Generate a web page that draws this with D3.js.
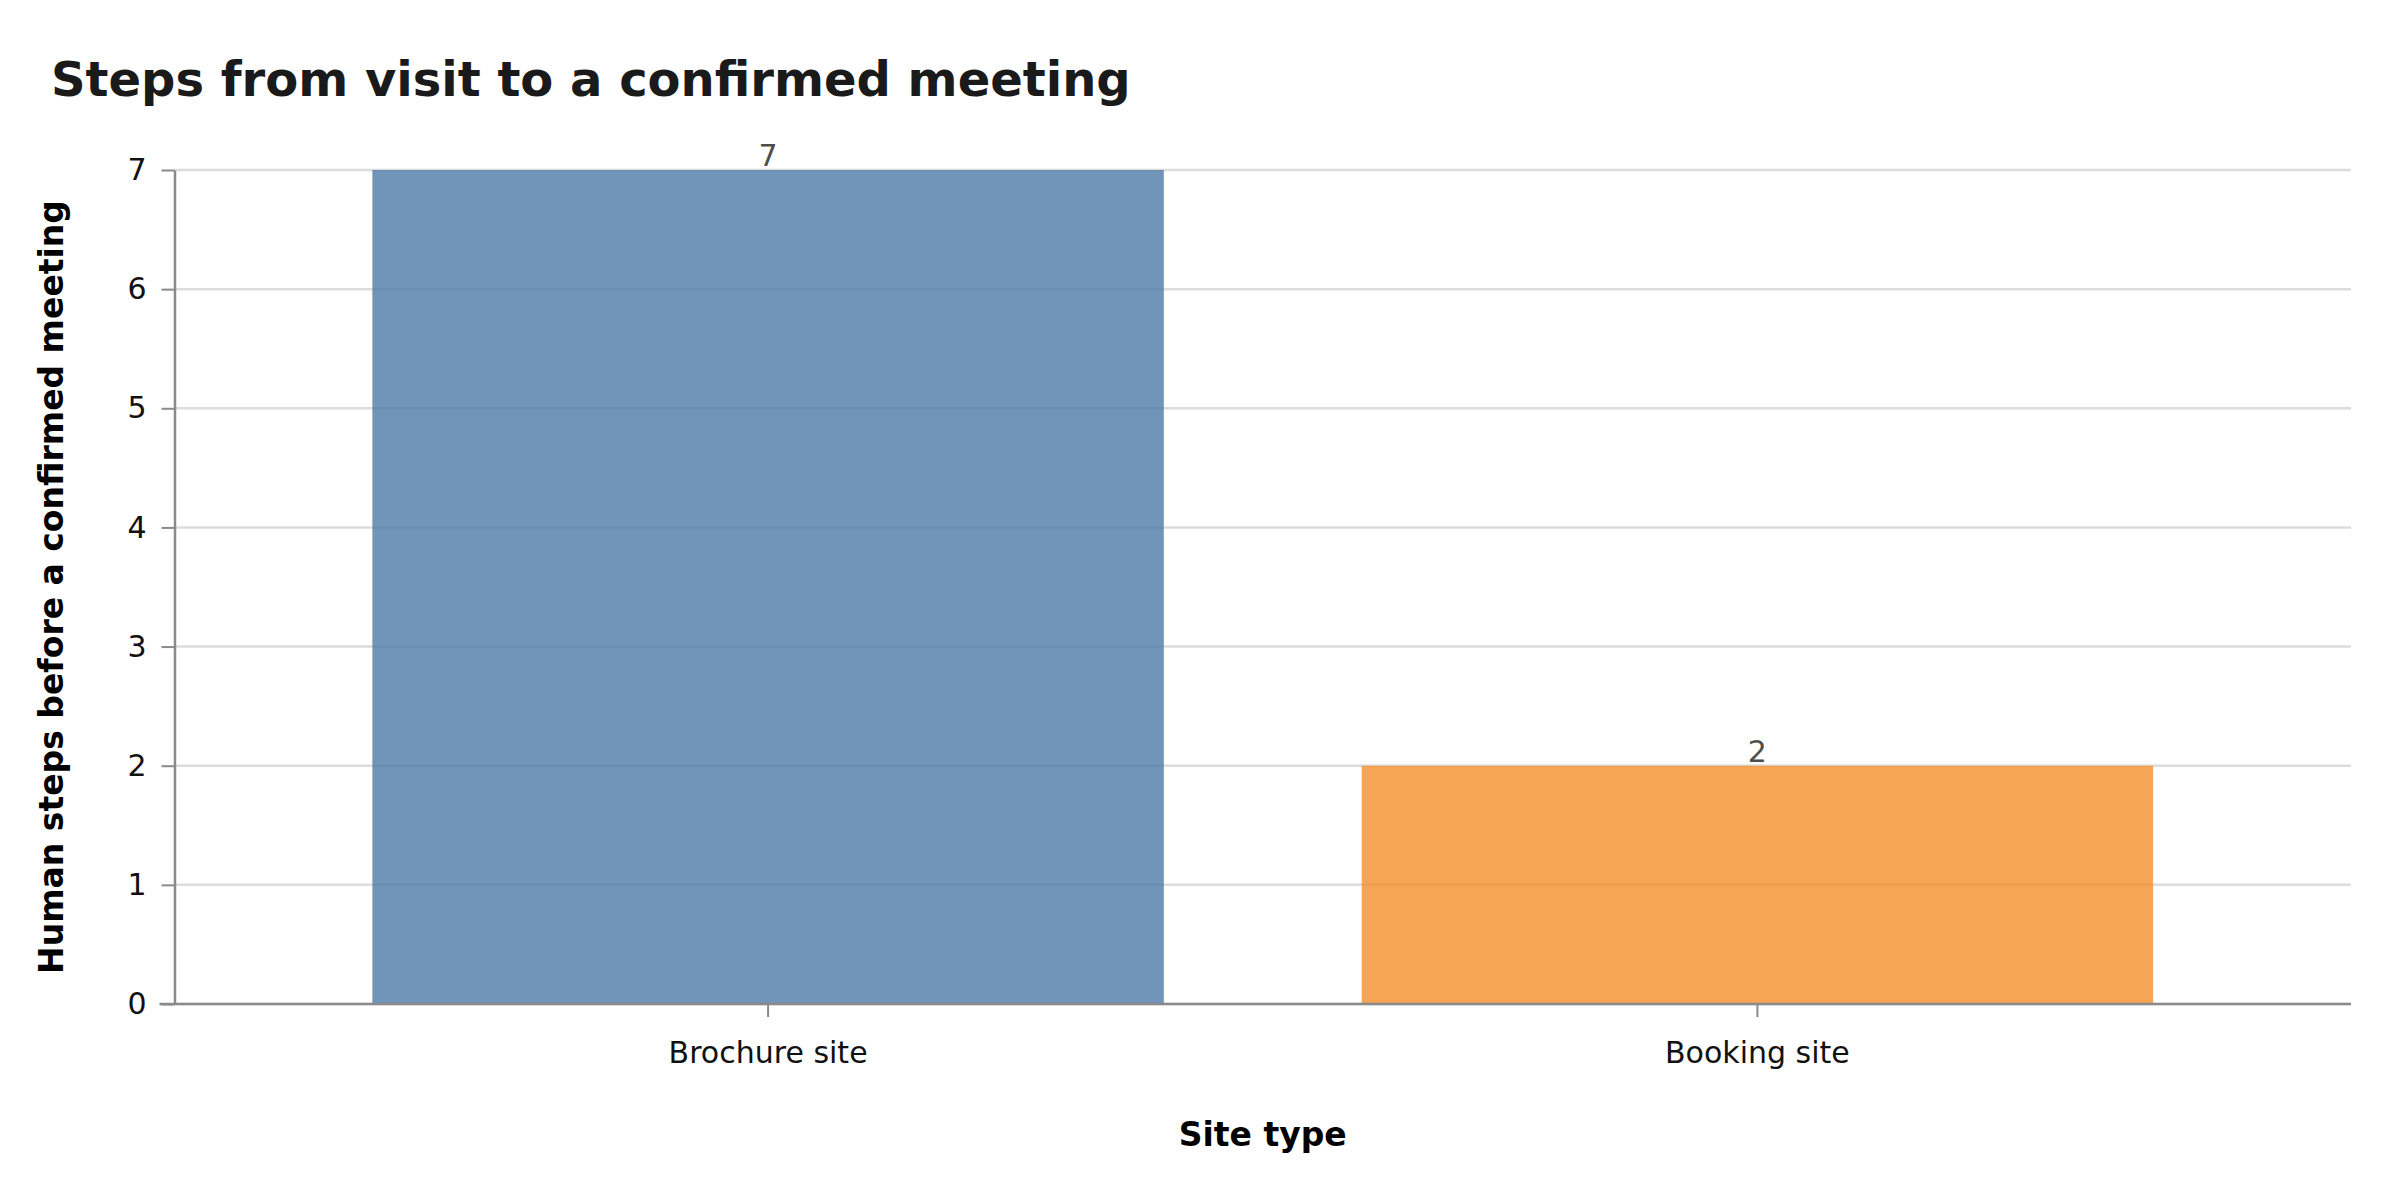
<!DOCTYPE html>
<html>
<head>
<meta charset="utf-8">
<script src="https://cdn.jsdelivr.net/npm/d3@7"></script>
<style>
  body { margin: 0; background: #fff; }
  svg { font-family: "DejaVu Sans", sans-serif; }
</style>
</head>
<body>
<div id="chart"></div>
<script>
const siteTypes = ["Brochure site", "Booking site"];
const humanSteps = [7, 2];
const barColors = ["#4e79a7", "#f28e2b"];
const yTicks = [0, 1, 2, 3, 4, 5, 6, 7];

const width = 2400;
const height = 1200;
const margin = { top: 170, right: 49, bottom: 196, left: 174.5 };
const innerW = width - margin.left - margin.right;
const innerH = height - margin.top - margin.bottom;

const data = siteTypes.map((s, i) => ({ site: s, steps: humanSteps[i], color: barColors[i] }));

const svg = d3
  .select("#chart")
  .append("svg")
  .attr("width", width)
  .attr("height", height);

// title
svg
  .append("text")
  .attr("x", 51)
  .attr("y", 96)
  .attr("font-size", "48px")
  .attr("font-weight", "bold")
  .attr("fill", "#1a1a1a")
  .text("Steps from visit to a confirmed meeting");

const g = svg
  .append("g")
  .attr("transform", `translate(${margin.left},${margin.top})`);

const xScale = d3
  .scaleBand()
  .domain(siteTypes)
  .range([0, innerW])
  .padding(0.2);

const yScale = d3.scaleLinear().domain([0, 7]).range([innerH, 0]);

// grid lines
g.append("g")
  .selectAll("line")
  .data(yTicks)
  .enter()
  .append("line")
  .attr("x1", 0)
  .attr("x2", innerW)
  .attr("y1", (d) => yScale(d))
  .attr("y2", (d) => yScale(d))
  .attr("stroke", "#dcdcdc")
  .attr("stroke-width", 2.5);

// bars
g.selectAll("rect.bar")
  .data(data)
  .enter()
  .append("rect")
  .attr("class", "bar")
  .attr("x", (d) => xScale(d.site))
  .attr("y", (d) => yScale(d.steps))
  .attr("width", xScale.bandwidth())
  .attr("height", (d) => innerH - yScale(d.steps))
  .attr("fill", (d) => d.color)
  .attr("fill-opacity", 0.8);

// value labels
g.selectAll("text.value")
  .data(data)
  .enter()
  .append("text")
  .attr("class", "value")
  .attr("x", (d) => xScale(d.site) + xScale.bandwidth() / 2)
  .attr("y", (d) => yScale(d.steps) - 4)
  .attr("text-anchor", "middle")
  .attr("font-size", "30px")
  .attr("fill", "#4d4d4d")
  .text((d) => d.steps);

// y axis
const yAxis = g
  .append("g")
  .call(
    d3.axisLeft(yScale).tickValues(yTicks).tickFormat(d3.format("d")).tickSize(13).tickSizeOuter(0).tickPadding(15)
  );

// x axis
const xAxis = g
  .append("g")
  .attr("transform", `translate(0,${innerH})`)
  .call(d3.axisBottom(xScale).tickSize(13).tickSizeOuter(0).tickPadding(25));

[yAxis, xAxis].forEach((ax) => {
  ax.attr("font-family", "DejaVu Sans").attr("font-size", "30px");
  ax.selectAll("text").attr("fill", "#111");
  ax.select(".domain").attr("stroke", "#8a8a8a").attr("stroke-width", 2.5);
  ax.selectAll(".tick line").attr("stroke", "#8a8a8a").attr("stroke-width", 2);
});
xAxis.select(".domain").attr("d", `M${-15},0H${innerW}`);

// axis titles
svg
  .append("text")
  .attr("x", margin.left + innerW / 2)
  .attr("y", 1146)
  .attr("text-anchor", "middle")
  .attr("font-size", "33px")
  .attr("font-weight", "bold")
  .attr("fill", "#000")
  .text("Site type");

svg
  .append("text")
  .attr("transform", `translate(63,${margin.top + innerH / 2}) rotate(-90)`)
  .attr("text-anchor", "middle")
  .attr("font-size", "33px")
  .attr("font-weight", "bold")
  .attr("fill", "#000")
  .text("Human steps before a confirmed meeting");
</script>
</body>
</html>
